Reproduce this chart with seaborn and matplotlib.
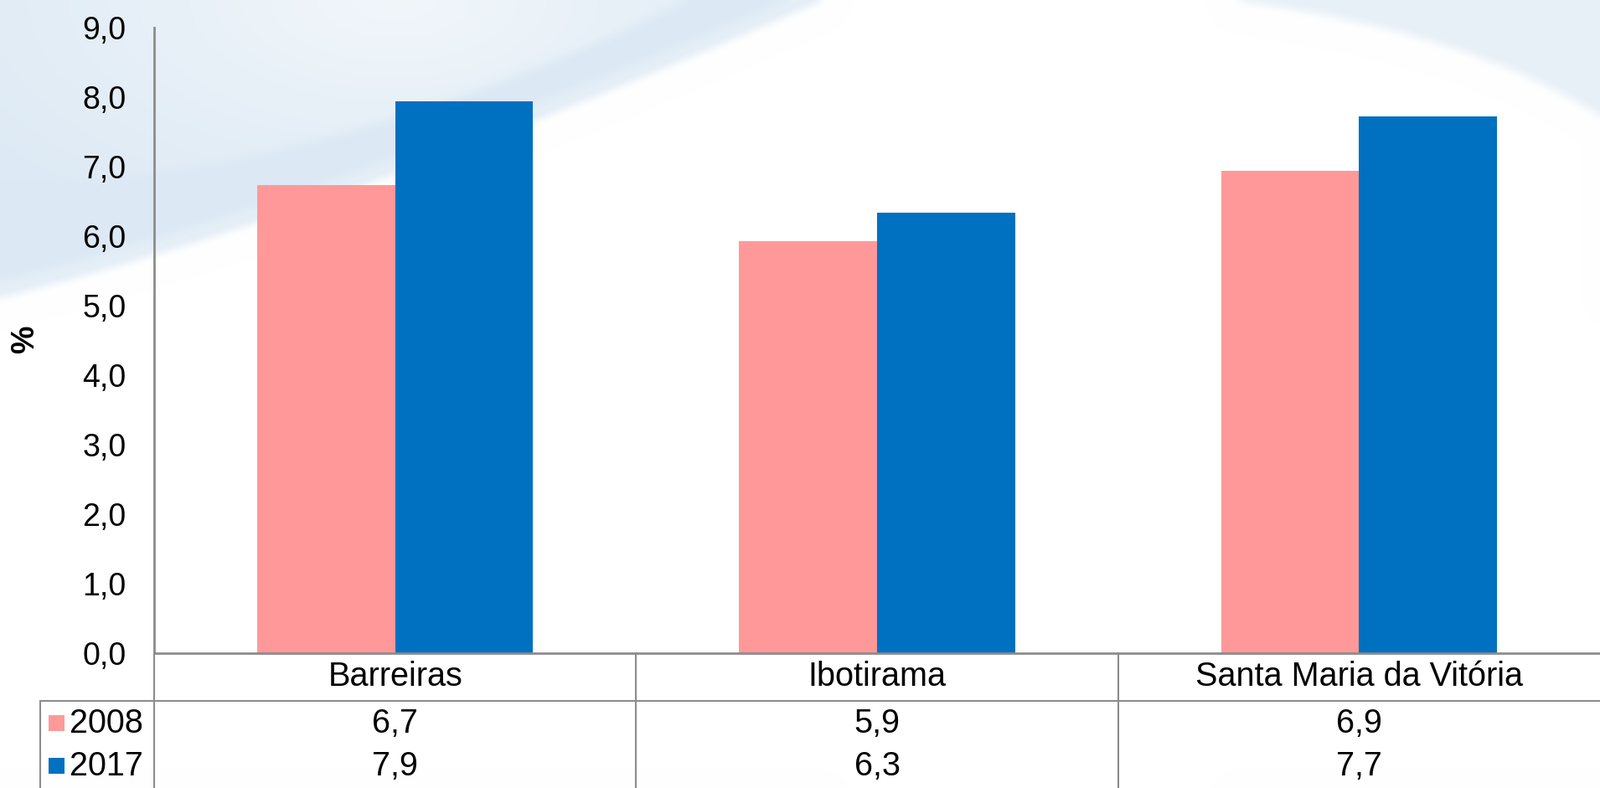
import numpy as np
import pandas as pd
import matplotlib
matplotlib.use("Agg")
import matplotlib.pyplot as plt
import matplotlib.transforms as mtransforms
from matplotlib.lines import Line2D
import seaborn as sns

# ─── Dados ────────────────────────────────────────────────────────────────────
municipios = ["Barreiras", "Ibotirama", "Santa Maria da Vitória"]
anos = ["2008", "2017"]
taxa_2008 = [6.74, 5.93, 6.94]
taxa_2017 = [7.94, 6.34, 7.72]
y_ticks = [0, 1, 2, 3, 4, 5, 6, 7, 8, 9]

CORES = {"2008": "#FF9999", "2017": "#0070C0"}
GRID = "#8c8c8c"

df = pd.DataFrame({
    "Municipio": municipios * 2,
    "Ano": [anos[0]] * 3 + [anos[1]] * 3,
    "Taxa": taxa_2008 + taxa_2017,
})

sns.set_style("white")
plt.rcParams["font.family"] = ["Liberation Sans", "DejaVu Sans"]
plt.rcParams["text.color"] = "black"
plt.rcParams["ytick.color"] = "black"

W, H = 1910, 941
fig = plt.figure(figsize=(W / 100, H / 100), dpi=100)
fig.patch.set_facecolor("white")


def bezier(p0, p1, p2, n=200):
    t = np.linspace(0, 1, n)[:, None]
    return (1 - t) ** 2 * np.array(p0) + 2 * (1 - t) * t * np.array(p1) + t ** 2 * np.array(p2)


def blur(img, sigma):
    """Desfoque gaussiano via FFT."""
    p = int(3 * sigma) + 1
    pad = np.pad(img, p, mode="edge")
    fy = np.fft.fftfreq(pad.shape[0])[:, None]
    fx = np.fft.fftfreq(pad.shape[1])[None, :]
    g = np.exp(-2 * (np.pi * sigma) ** 2 * (fx ** 2 + fy ** 2))
    out = np.real(np.fft.ifft2(np.fft.fft2(pad) * g))
    return out[p:-p, p:-p]


# ─── Fundo decorativo (faixas azul-claras suaves) ─────────────────────────────
step = 2
xs = np.arange(0, W, step) + step / 2
ys = np.arange(0, H, step) + step / 2
X, Y = np.meshgrid(xs, ys)

cb = bezier((0, 355), (400, 255), (980, 0))
ca = bezier((0, 220), (380, 215), (820, 0))
cr = bezier((1470, 0), (1760, 40), (1910, 140))
yb = np.interp(xs, cb[:, 0], cb[:, 1], right=0)[None, :]
ya = np.interp(xs, ca[:, 0], ca[:, 1], right=0)[None, :]
yr = np.interp(xs, cr[:, 0], cr[:, 1], left=0)[None, :]

a = np.zeros_like(X)
a[Y < yb] = 0.62
fade = np.clip(np.sqrt(((X - 470) / 600) ** 2 + (Y / 300) ** 2), 0, 1)
a = np.where(Y < ya, 0.25 + 0.35 * fade, a)
a[np.abs(Y - (yb - 12)) < 3] = 0.3
a[(Y < yr) & (X > 1470)] = 0.42
a = blur(a, 2.5)

tom = np.array([0.78, 0.86, 0.93])
img = 1 - a[..., None] * (1 - tom)[None, None, :]

bg = fig.add_axes([0, 0, 1, 1], zorder=0)
bg.imshow(np.clip(img, 0, 1), extent=[0, W, H, 0], interpolation="bilinear",
          aspect="auto")
bg.set_xlim(0, W)
bg.set_ylim(H, 0)
bg.axis("off")

# ─── Gráfico de barras ────────────────────────────────────────────────────────
ax = fig.add_axes([184 / W, 1 - 780 / H, 1 - 184 / W, (780 - 33) / H], zorder=1)
ax.patch.set_alpha(0)

sns.barplot(data=df, x="Municipio", y="Taxa", hue="Ano", order=municipios,
            hue_order=anos, palette=CORES, saturation=1, width=0.572,
            errorbar=None, ax=ax, legend=False, linewidth=0)

ax.set_xlim(-0.5, 2.5)
ax.set_ylim(0, 9)
ax.set_yticks(y_ticks)
ax.set_yticklabels([f"{v:.1f}".replace(".", ",") for v in y_ticks], fontsize=27)
ax.set_xticks([])
ax.set_xlabel("")
ax.set_ylabel("")
ax.tick_params(axis="y", length=0, pad=24)
for side in ["top", "right"]:
    ax.spines[side].set_visible(False)
for side in ["left", "bottom"]:
    ax.spines[side].set_color(GRID)
    ax.spines[side].set_linewidth(2)

fig.text(30 / W, 1 - 405 / H, "%", rotation=90, fontsize=27, fontweight="bold",
         ha="center", va="center")

# ─── Tabela de dados ──────────────────────────────────────────────────────────
trans = mtransforms.blended_transform_factory(ax.transData, fig.transFigure)
y_cat = 1 - 808 / H
y_rows = [1 - 864 / H, 1 - 915 / H]
y_line = 1 - 837 / H
series = [taxa_2008, taxa_2017]

for i, m in enumerate(municipios):
    ax.text(i, y_cat, m, transform=trans, ha="center", va="center",
            fontsize=28.5, clip_on=False)
    for yr_, vals in zip(y_rows, series):
        ax.text(i, yr_, f"{vals[i]:.1f}".replace(".", ","), transform=trans,
                ha="center", va="center", fontsize=28.5, clip_on=False)

for xb in [-0.5, 0.5, 1.5]:
    ax.add_line(Line2D([xb, xb], [0, 1 - 780 / H], transform=trans,
                       color=GRID, lw=1.5, clip_on=False))

fig.add_artist(Line2D([48 / W, 1], [y_line, y_line], color=GRID, lw=1.5))
fig.add_artist(Line2D([48 / W, 48 / W], [0, y_line], color=GRID, lw=1.5))

for yr_, ano in zip(y_rows, anos):
    fig.patches.append(plt.Rectangle((58 / W, yr_ - 9 / H), 19 / W, 19 / H,
                                     transform=fig.transFigure,
                                     color=CORES[ano], lw=0))
    fig.text(83 / W, yr_, ano, ha="left", va="center", fontsize=28.5)

fig.savefig("out.png", dpi=100)
